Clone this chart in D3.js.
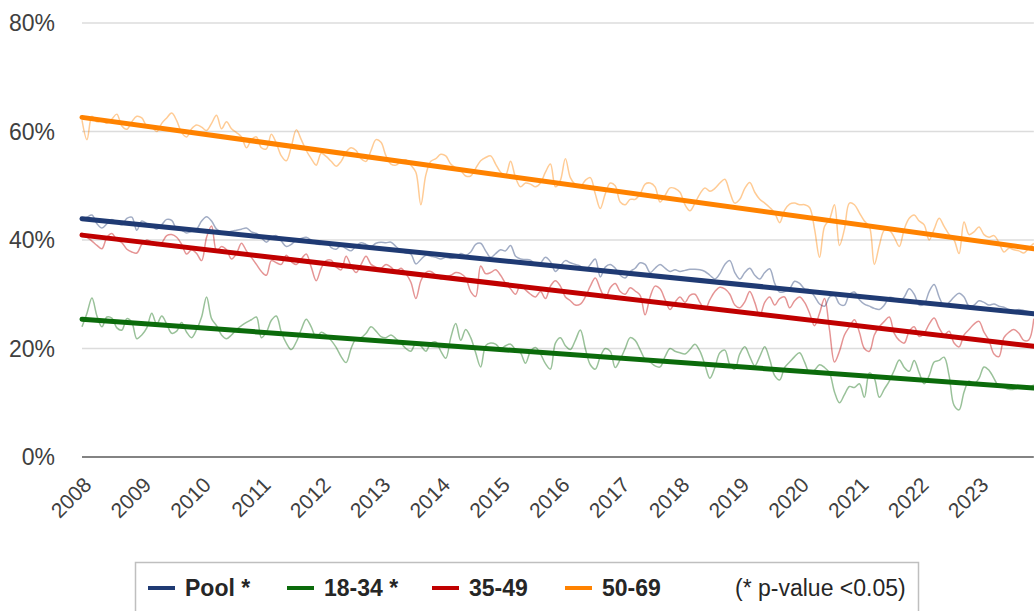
<!DOCTYPE html>
<html>
<head>
<meta charset="utf-8">
<script src="https://cdn.jsdelivr.net/npm/d3@7"></script>
<style>
  body { margin: 0; background: #fff; }
  svg { display: block; font-family: Arial, "Liberation Sans", sans-serif; }
</style>
</head>
<body>
<svg id="chart"></svg>
<script>
// tick labels / categories
var years = [2008,2009,2010,2011,2012,2013,2014,2015,2016,2017,2018,2019,2020,2021,2022,2023];
var yTicks = [0,20,40,60,80];
var seriesNames = ["Pool *","18-34 *","35-49","50-69"];
var seriesColors = ["#1f3a73","#0b6b0b","#c00000","#ff8200"];
var noteText = "(* p-value <0.05)";

// monthly values (%), Jan 2008 .. Dec 2023
var pool = [43.7,44.2,44.6,43.0,42.2,43.0,43.8,43.2,42.8,44.0,44.2,41.8,
  43.5,43.0,42.6,42.0,42.8,43.8,43.6,42.0,41.8,41.3,41.6,42.0,
  43.5,44.3,43.5,42.0,41.5,41.3,41.6,41.8,42.0,42.2,41.5,41.2,
  40.4,39.6,40.5,40.8,39.8,38.8,39.2,40.0,40.3,40.5,40.0,39.3,
  39.2,39.6,38.6,38.3,39.0,38.4,38.0,38.9,39.5,39.2,38.8,39.4,
  39.6,39.5,39.6,38.8,38.0,37.6,37.4,35.6,36.4,37.2,37.0,36.8,
  36.5,36.8,36.6,36.8,37.5,37.2,37.8,39.2,39.4,38.0,36.8,37.5,
  38.2,38.0,39.0,37.0,36.5,36.4,36.3,35.6,35.8,36.8,36.0,34.2,
  35.2,36.2,35.8,35.5,35.2,34.5,35.5,36.5,33.2,35.0,35.5,34.8,
  33.5,33.0,34.2,34.8,35.8,35.5,34.0,34.8,35.5,34.8,34.2,34.5,
  34.2,34.4,34.6,34.6,34.5,34.2,33.5,32.8,33.8,35.5,36.2,34.0,
  32.8,34.0,34.8,33.5,32.8,34.0,34.7,32.0,30.4,30.5,31.0,32.4,
  32.0,31.0,30.8,29.6,28.2,27.8,29.5,29.8,28.2,28.0,30.0,30.4,
  29.0,28.2,27.8,27.4,27.2,28.0,29.4,29.2,28.6,29.5,31.0,30.0,
  28.0,28.2,30.5,31.8,29.5,27.8,28.5,29.5,30.2,29.5,27.8,28.0,
  28.8,28.5,28.0,28.2,27.8,27.6,27.2,27.0,27.2,27.0,26.8,26.5];

var age1834 = [24.0,26.5,29.3,26.0,24.0,25.8,25.6,23.8,23.4,25.5,24.8,21.8,
  22.5,23.8,26.5,24.5,26.0,24.5,22.8,23.2,24.8,23.0,22.0,23.5,
  25.8,29.5,25.5,24.2,22.5,21.8,22.5,23.5,24.2,24.8,25.3,25.8,
  22.0,23.0,25.2,26.0,23.0,21.0,19.8,21.2,23.5,25.4,24.0,22.0,
  23.0,22.5,21.5,20.2,18.5,17.4,20.0,21.8,22.0,22.8,24.0,23.2,
  22.2,22.0,22.5,21.8,21.0,20.0,19.5,21.0,20.5,19.5,21.0,21.2,
  19.5,18.2,22.0,24.6,21.5,23.5,22.0,19.2,16.6,20.5,21.0,20.8,
  20.0,20.5,20.8,19.8,19.2,17.3,19.5,20.2,19.0,17.2,16.2,21.0,
  22.0,20.5,19.8,21.5,23.4,20.0,17.0,16.2,18.5,20.0,19.5,16.5,
  18.0,20.0,22.0,21.5,19.8,18.0,17.5,16.8,16.6,18.5,20.0,19.5,
  19.2,19.0,19.8,20.8,19.5,17.0,14.5,16.5,19.2,19.7,17.0,16.2,
  19.0,20.3,18.5,16.8,18.5,20.3,18.0,15.0,14.2,16.5,17.5,18.5,
  19.2,17.5,15.5,16.0,17.0,16.5,15.5,12.0,10.0,11.5,13.0,12.8,
  13.5,11.0,15.5,14.5,11.0,12.5,14.0,16.0,17.9,16.5,15.8,17.8,
  15.5,13.5,15.0,17.5,17.8,18.4,15.0,9.5,8.7,12.0,14.0,13.5,
  14.5,16.6,16.0,14.5,13.0,12.8,12.5,12.5,12.8,12.9,12.8,13.3];

var age3549 = [41.3,40.5,39.8,39.0,38.4,40.5,41.2,40.0,39.5,38.3,37.8,37.6,
  39.2,40.0,39.6,39.0,39.5,40.8,41.0,40.5,39.2,37.4,38.2,37.5,
  36.2,40.5,42.6,38.0,38.8,38.2,36.5,37.5,39.4,38.0,36.8,35.5,
  34.2,33.5,36.2,35.8,35.5,37.2,36.0,35.5,36.5,37.4,35.0,32.5,
  34.8,36.2,36.3,35.0,34.5,37.0,35.2,34.0,35.5,37.0,35.5,35.0,
  34.8,35.5,35.0,34.2,34.8,33.8,32.2,29.2,32.5,34.0,34.2,33.5,
  32.8,33.2,33.5,34.0,33.8,33.0,30.5,29.6,35.2,33.8,34.0,34.5,
  33.5,32.0,31.0,30.0,31.8,30.8,30.0,29.5,30.5,29.2,31.5,32.5,
  31.5,29.5,28.8,28.0,28.2,29.5,31.5,33.0,31.0,29.2,31.2,32.0,
  30.5,30.0,31.2,30.6,29.8,26.2,29.5,31.5,31.0,29.0,27.2,28.5,
  29.5,28.5,29.8,30.0,28.5,27.2,29.0,30.5,31.3,31.0,30.0,28.0,
  27.5,28.6,30.5,28.5,26.0,28.5,29.5,28.0,29.2,29.5,27.5,28.8,
  29.5,28.5,26.5,24.2,26.5,29.2,23.5,17.5,19.5,22.5,24.0,25.3,
  23.0,20.0,19.5,22.5,24.0,25.0,25.8,22.8,21.5,21.0,23.2,24.0,
  22.2,22.8,24.5,25.6,23.8,22.5,23.2,21.0,20.3,22.5,23.5,24.5,
  25.0,23.0,21.5,19.0,18.5,22.0,23.0,23.5,22.8,21.5,21.6,25.5];

var age5069 = [62.1,58.5,62.8,61.8,62.0,61.5,62.3,63.2,61.0,60.4,61.8,62.8,
  62.5,61.0,60.8,60.0,61.5,62.5,63.4,62.0,59.8,59.0,60.5,61.2,
  60.8,60.2,61.5,63.0,60.5,61.8,60.5,59.8,59.0,57.0,58.5,59.0,
  57.0,56.8,59.5,57.8,55.5,54.6,57.2,60.3,58.5,56.5,55.0,53.8,
  56.0,55.4,54.5,53.6,54.5,56.2,57.0,56.5,55.0,54.5,56.5,58.5,
  58.0,55.5,54.0,53.8,54.5,54.8,53.8,52.5,46.5,52.0,54.5,55.0,
  55.8,55.5,54.0,53.3,52.8,51.8,51.8,53.2,54.6,55.2,55.5,54.0,
  52.5,52.0,54.5,51.5,49.8,50.5,50.3,49.8,50.5,52.5,54.0,49.8,
  51.0,55.0,51.5,50.2,49.8,51.0,51.5,48.5,45.8,48.5,50.5,50.0,
  47.0,46.5,47.5,47.5,48.5,50.3,50.5,49.8,47.0,48.2,49.6,49.5,
  48.8,46.5,45.4,46.8,48.5,49.6,49.0,49.5,50.5,51.2,48.8,46.8,
  47.5,49.5,50.6,48.8,47.5,46.8,46.0,45.0,43.2,45.5,46.6,46.8,
  46.5,46.5,46.0,42.0,36.8,42.5,43.8,46.5,39.0,42.0,46.8,46.5,
  45.0,43.5,42.5,35.5,39.0,41.8,41.8,40.5,38.8,42.0,44.0,44.6,
  43.5,42.8,40.0,42.0,44.0,42.5,41.0,40.0,37.5,43.3,41.0,41.5,
  42.4,41.0,40.5,40.8,39.5,37.8,38.5,38.2,38.0,37.6,38.5,39.4];

// linear trend, value at first and last month
var trendStart = [43.9,25.4,40.9,62.6];
var trendEnd   = [26.4,12.7,20.4,38.4];

var monthly = [pool, age1834, age3549, age5069];

var screen = {width:1034, height:611};
var margins = {left:82, right:0, top:23, bottom:154};

var svg = d3.select("#chart")
    .attr("width", screen.width)
    .attr("height", screen.height);

var x = d3.scaleLinear()
    .domain([2008, 2023])
    .range([82, 979]);

var y = d3.scaleLinear()
    .domain([0, 80])
    .range([screen.height - margins.bottom, margins.top]);

var xEnd = x(2008 + 191/12);

// gridlines
svg.append("g")
    .selectAll("line")
    .data(yTicks.filter(function(d){ return d > 0; }))
    .enter()
    .append("line")
    .attr("x1", margins.left)
    .attr("x2", xEnd)
    .attr("y1", function(d){ return y(d); })
    .attr("y2", function(d){ return y(d); })
    .attr("stroke", "#dcdcdc")
    .attr("stroke-width", 1.5);

// y labels
svg.append("g")
    .selectAll("text")
    .data(yTicks)
    .enter()
    .append("text")
    .attr("x", 55)
    .attr("y", function(d){ return y(d); })
    .attr("dy", "0.36em")
    .attr("text-anchor", "end")
    .attr("font-size", 23)
    .attr("fill", "#404040")
    .text(function(d){ return d + "%"; });

// x axis line
svg.append("line")
    .attr("x1", margins.left)
    .attr("x2", xEnd)
    .attr("y1", y(0))
    .attr("y2", y(0))
    .attr("stroke", "#5a5a5a")
    .attr("stroke-width", 1.5);

// x labels
var xAxis = svg.append("g")
    .attr("transform", "translate(0," + y(0) + ")")
    .call(d3.axisBottom(x).tickValues(years).tickFormat(d3.format("d")).tickSize(0));
xAxis.select(".domain").remove();
xAxis.selectAll("text")
    .attr("font-size", 21)
    .attr("font-family", "Arial, 'Liberation Sans', sans-serif")
    .attr("fill", "#404040")
    .attr("text-anchor", "end")
    .attr("y", 0)
    .attr("dy", "0.35em")
    .attr("transform", "translate(5,24) rotate(-45)");

var line = d3.line()
    .x(function(d, i){ return x(2008 + i/12); })
    .y(function(d){ return y(d); })
    .curve(d3.curveCatmullRom.alpha(0.5));

// thin monthly lines
svg.append("g")
    .selectAll("path")
    .data(monthly)
    .enter()
    .append("path")
    .attr("d", line)
    .attr("fill", "none")
    .attr("stroke", function(d, i){ return seriesColors[i]; })
    .attr("stroke-opacity", 0.42)
    .attr("stroke-width", 1.5);

// trend lines
svg.append("g")
    .selectAll("line")
    .data(seriesNames)
    .enter()
    .append("line")
    .attr("x1", x(2008))
    .attr("x2", xEnd)
    .attr("y1", function(d, i){ return y(trendStart[i]); })
    .attr("y2", function(d, i){ return y(trendEnd[i]); })
    .attr("stroke", function(d, i){ return seriesColors[i]; })
    .attr("stroke-width", 5)
    .attr("stroke-linecap", "round");

// legend
var legend = svg.append("g");
legend.append("rect")
    .attr("x", 135.5)
    .attr("y", 562.5)
    .attr("width", 783)
    .attr("height", 70)
    .attr("fill", "#fff")
    .attr("stroke", "#bfbfbf")
    .attr("stroke-width", 1.5);

var legX = [148, 287, 432, 565];
var items = legend.selectAll("g.item")
    .data(seriesNames)
    .enter()
    .append("g")
    .attr("class", "item")
    .attr("transform", function(d, i){ return "translate(" + legX[i] + ",588)"; });
items.append("line")
    .attr("x1", 0).attr("x2", 27)
    .attr("stroke", function(d, i){ return seriesColors[i]; })
    .attr("stroke-width", 4);
items.append("text")
    .attr("x", 37)
    .attr("dy", "0.36em")
    .attr("font-size", 23)
    .attr("font-weight", "bold")
    .attr("fill", "#262626")
    .text(function(d){ return d; });

legend.append("text")
    .attr("x", 735)
    .attr("y", 588)
    .attr("dy", "0.36em")
    .attr("font-size", 23)
    .attr("fill", "#262626")
    .text(noteText);
</script>
</body>
</html>
